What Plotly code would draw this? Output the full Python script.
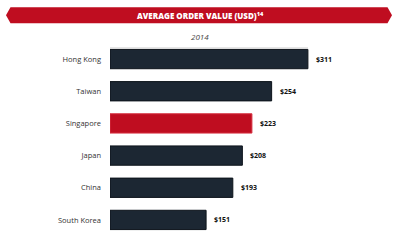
import plotly.graph_objects as go

countries = ["Hong Kong", "Taiwan", "Singapore", "Japan", "China", "South Korea"]
values = [311, 254, 223, 208, 193, 151]
value_labels = ["$311", "$254", "$223", "$208", "$193", "$151"]
highlight = "Singapore"

W, H = 400, 252
ML, MR, MT, MB = 110, 10, 43, 16
PW, PH = W - ML - MR, H - MT - MB

def px(x):
    return (x - ML) / PW

def py(y):
    return 1 - (y - MT) / PH

DARK = "#1c2733"
RED = "#bf0d20"

fill = [RED if c == highlight else DARK for c in countries]
edge = ["#d63040" if c == highlight else "#0c131a" for c in countries]

fig = go.Figure(go.Bar(
    x=values, y=countries, orientation="h",
    marker=dict(color=fill, line=dict(color=edge, width=1)),
    width=0.6, hoverinfo="skip",
))

for c, v, t in zip(countries, values, value_labels):
    fig.add_annotation(x=v, y=c, text="<b>" + t + "</b>", showarrow=False,
                       xanchor="left", xshift=6,
                       font=dict(family="Open Sans", size=7, color="#111111"))

# red banner with pointed ends
bx0, bx1, tip = 6, 392, 4.5
by0, by1 = 7.3, 23.3
ym = (by0 + by1) / 2
path = "M {} {} L {} {} L {} {} L {} {} L {} {} L {} {} Z".format(
    px(bx0), py(ym), px(bx0 + tip), py(by0), px(bx1 - tip), py(by0),
    px(bx1), py(ym), px(bx1 - tip), py(by1), px(bx0 + tip), py(by1))
fig.add_shape(type="path", path=path, xref="paper", yref="paper",
              fillcolor=RED, line=dict(width=0), layer="below")

fig.add_annotation(x=px(200), y=py(15.5), xref="paper", yref="paper",
                   text="AVERAGE ORDER VALUE (USD)<sup>14</sup>",
                   showarrow=False, xanchor="center", yanchor="middle",
                   font=dict(family="Open Sans", size=8, color="white", weight=800))

fig.add_annotation(x=px(200), y=py(36), xref="paper", yref="paper",
                   text="<i>2014</i>", showarrow=False,
                   xanchor="center", yanchor="middle",
                   font=dict(family="Open Sans", size=8, color="#444444"))

fig.add_shape(type="line", xref="paper", yref="paper",
              x0=px(110), x1=px(308), y0=py(48), y1=py(48),
              line=dict(color="#cccccc", width=1))

fig.update_layout(
    width=W, height=H,
    margin=dict(l=ML, r=MR, t=MT, b=MB),
    paper_bgcolor="white", plot_bgcolor="white",
    showlegend=False,
    xaxis=dict(range=[0, 440], visible=False, fixedrange=True),
    yaxis=dict(categoryorder="array", categoryarray=countries[::-1],
               showgrid=False, zeroline=False, showline=False, ticks="",
               ticklabelstandoff=8,
               tickfont=dict(family="Open Sans", size=7.5, color="#333333")),
)

fig.write_html("out.html")
